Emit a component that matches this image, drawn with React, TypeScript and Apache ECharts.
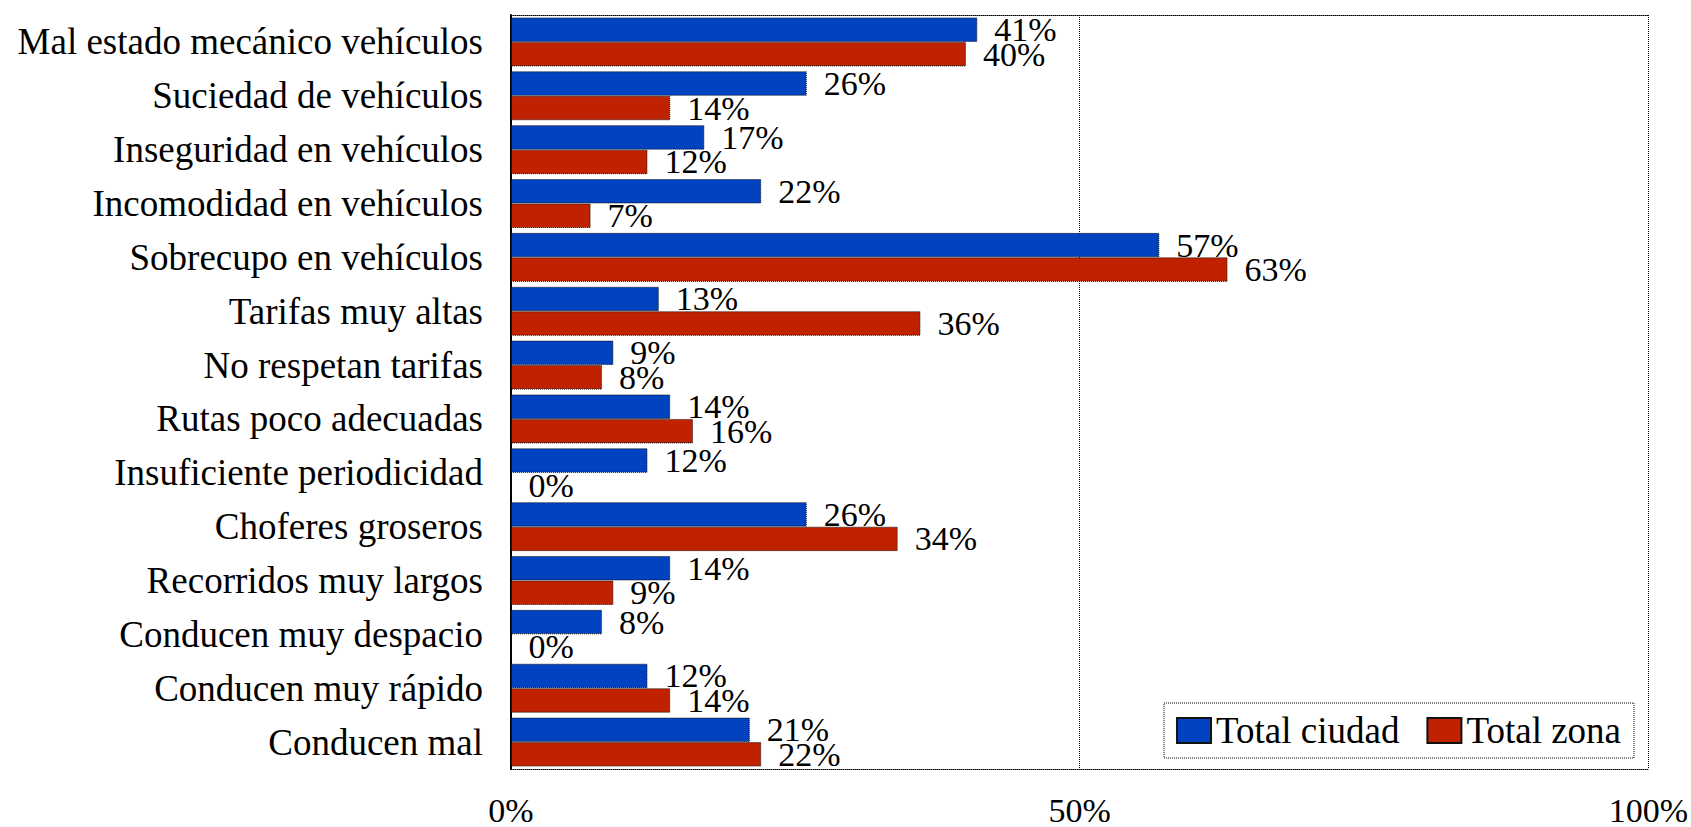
import React, { useEffect, useRef } from "react";
import * as echarts from "echarts";

const categories = [
  "Mal estado mecánico vehículos",
  "Suciedad de vehículos",
  "Inseguridad en vehículos",
  "Incomodidad en vehículos",
  "Sobrecupo en vehículos",
  "Tarifas muy altas",
  "No respetan tarifas",
  "Rutas poco adecuadas",
  "Insuficiente periodicidad",
  "Choferes groseros",
  "Recorridos muy largos",
  "Conducen muy despacio",
  "Conducen muy rápido",
  "Conducen mal",
];

const totalCiudad = [41, 26, 17, 22, 57, 13, 9, 14, 12, 26, 14, 8, 12, 21];
const totalZona = [40, 14, 12, 7, 63, 36, 8, 16, 0, 34, 9, 0, 14, 22];

const seriesNames = ["Total ciudad", "Total zona"];
const axisMin = 0;
const axisMax = 100;
const axisInterval = 50;

const FONT = "Liberation Serif";
const BLUE = "#0042C0";
const RED = "#C02200";

export default function App() {
  const ref = useRef<HTMLDivElement>(null);

  useEffect(() => {
    if (!ref.current) return;
    const chart = echarts.init(ref.current, null, { renderer: "svg" });

    const labelCfg = {
      show: true,
      position: "right",
      distance: 17,
      formatter: "{c}%",
      color: "#000",
      fontFamily: FONT,
      fontSize: 34,
    };

    chart.setOption({
      animation: false,
      backgroundColor: "#fff",
      textStyle: { fontFamily: FONT },
      grid: {
        left: 511,
        right: 41,
        top: 15,
        bottom: 55,
        containLabel: false,
      },
      legend: {
        show: true,
        right: 57,
        top: 703,
        orient: "horizontal",
        data: seriesNames,
        icon: "rect",
        itemWidth: 34,
        itemHeight: 25,
        itemGap: 27,
        padding: [9, 13, 9, 12],
        borderColor: "#000",
        borderWidth: 1,
        borderType: "dotted",
        backgroundColor: "#fff",
        textStyle: {
          color: "#000",
          fontFamily: FONT,
          fontSize: 37,
        },
      },
      xAxis: [
        {
          type: "value",
          position: "bottom",
          min: axisMin,
          max: axisMax,
          interval: axisInterval,
          axisLine: {
            show: true,
            lineStyle: { color: "#000", width: 1, type: "dotted" },
          },
          axisTick: { show: false },
          axisLabel: {
            formatter: "{value}%",
            color: "#000",
            fontFamily: FONT,
            fontSize: 34,
            margin: 24,
          },
          splitLine: {
            show: true,
            lineStyle: { color: "#000", width: 1, type: "dotted" },
          },
        },
        {
          type: "value",
          position: "top",
          min: axisMin,
          max: axisMax,
          interval: axisInterval,
          axisLine: {
            show: true,
            lineStyle: { color: "#000", width: 1, type: "dotted" },
          },
          axisTick: { show: false },
          axisLabel: { show: false },
          splitLine: { show: false },
        },
      ],
      yAxis: {
        type: "category",
        inverse: true,
        data: categories,
        axisLine: {
          show: true,
          onZero: false,
          lineStyle: { color: "#000", width: 2 },
        },
        axisTick: { show: false },
        axisLabel: {
          color: "#000",
          fontFamily: FONT,
          fontSize: 37,
          margin: 28,
          interval: 0,
        },
        splitLine: { show: false },
      },
      series: [
        {
          name: seriesNames[0],
          type: "bar",
          xAxisIndex: 0,
          data: totalCiudad,
          barGap: "0%",
          barCategoryGap: "9%",
          itemStyle: {
            color: BLUE,
            borderColor: "#111",
            borderWidth: 1,
            borderType: "dotted",
          },
          label: labelCfg,
        },
        {
          name: seriesNames[1],
          type: "bar",
          xAxisIndex: 0,
          data: totalZona,
          barGap: "0%",
          barCategoryGap: "9%",
          itemStyle: {
            color: RED,
            borderColor: "#111",
            borderWidth: 1,
            borderType: "dotted",
          },
          label: labelCfg,
        },
      ],
    });

    return () => {
      chart.dispose();
    };
  }, []);

  return (
    <div
      ref={ref}
      style={{
        position: "fixed",
        left: 0,
        top: 0,
        width: 1691,
        height: 827,
        background: "#fff",
      }}
    />
  );
}
